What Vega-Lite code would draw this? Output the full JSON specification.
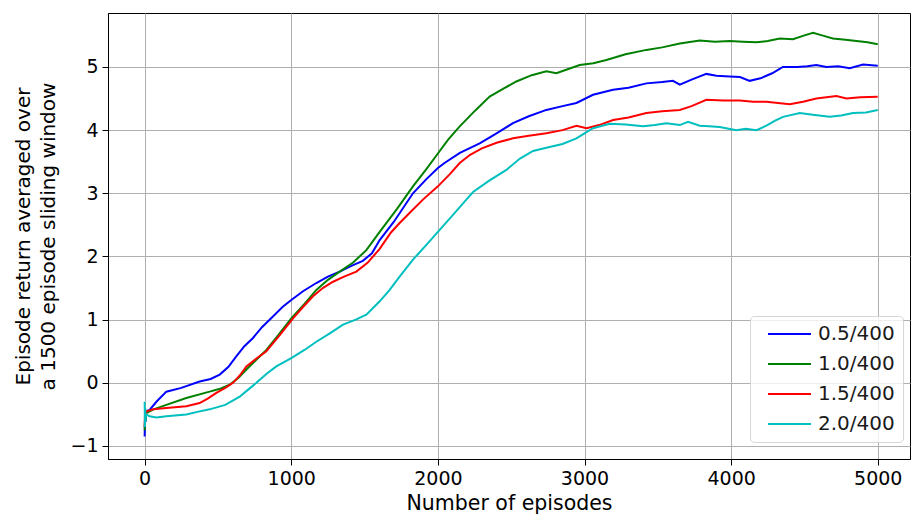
{
  "$schema": "https://vega.github.io/schema/vega-lite/v6.json",
  "width": 802,
  "height": 446,
  "autosize": {"type": "none"},
  "padding": {"left": 108, "top": 13, "right": 1, "bottom": 58},
  "background": "white",
  "config": {
    "view": {"stroke": "black", "strokeWidth": 1},
    "font": "DejaVu Sans",
    "axis": {
      "labelFont": "DejaVu Sans", "titleFont": "DejaVu Sans",
      "labelFontSize": 19, "titleFontSize": 20.5,
      "labelColor": "black", "titleColor": "black",
      "titleFontWeight": "normal",
      "domainColor": "black", "tickColor": "black", "tickSize": 6,
      "gridColor": "#b0b0b0", "gridWidth": 1, "labelPadding": 4
    },
    "legend": {
      "labelFont": "DejaVu Sans", "labelFontSize": 20, "labelColor": "#1a1a1a"
    }
  },
  "data": {"values": [
    {"e":0,"s":"0.5/400","v":-0.85},{"e":3,"s":"0.5/400","v":-0.5},{"e":6,"s":"0.5/400","v":-0.62},{"e":10,"s":"0.5/400","v":-0.45},{"e":34,"s":"0.5/400","v":-0.43},{"e":80,"s":"0.5/400","v":-0.3},{"e":148,"s":"0.5/400","v":-0.14},{"e":250,"s":"0.5/400","v":-0.08},{"e":375,"s":"0.5/400","v":0.02},{"e":450,"s":"0.5/400","v":0.06},{"e":512,"s":"0.5/400","v":0.13},{"e":570,"s":"0.5/400","v":0.25},{"e":625,"s":"0.5/400","v":0.42},{"e":680,"s":"0.5/400","v":0.58},{"e":739,"s":"0.5/400","v":0.71},{"e":800,"s":"0.5/400","v":0.88},{"e":875,"s":"0.5/400","v":1.05},{"e":940,"s":"0.5/400","v":1.2},{"e":1000,"s":"0.5/400","v":1.31},{"e":1080,"s":"0.5/400","v":1.45},{"e":1171,"s":"0.5/400","v":1.58},{"e":1250,"s":"0.5/400","v":1.68},{"e":1330,"s":"0.5/400","v":1.76},{"e":1410,"s":"0.5/400","v":1.85},{"e":1488,"s":"0.5/400","v":1.93},{"e":1550,"s":"0.5/400","v":2.05},{"e":1603,"s":"0.5/400","v":2.26},{"e":1700,"s":"0.5/400","v":2.55},{"e":1830,"s":"0.5/400","v":3.0},{"e":1920,"s":"0.5/400","v":3.22},{"e":2000,"s":"0.5/400","v":3.4},{"e":2045,"s":"0.5/400","v":3.48},{"e":2150,"s":"0.5/400","v":3.64},{"e":2285,"s":"0.5/400","v":3.79},{"e":2400,"s":"0.5/400","v":3.95},{"e":2512,"s":"0.5/400","v":4.11},{"e":2620,"s":"0.5/400","v":4.22},{"e":2740,"s":"0.5/400","v":4.32},{"e":2850,"s":"0.5/400","v":4.38},{"e":2945,"s":"0.5/400","v":4.43},{"e":3058,"s":"0.5/400","v":4.56},{"e":3195,"s":"0.5/400","v":4.64},{"e":3300,"s":"0.5/400","v":4.67},{"e":3422,"s":"0.5/400","v":4.74},{"e":3530,"s":"0.5/400","v":4.76},{"e":3603,"s":"0.5/400","v":4.78},{"e":3650,"s":"0.5/400","v":4.72},{"e":3730,"s":"0.5/400","v":4.8},{"e":3831,"s":"0.5/400","v":4.89},{"e":3900,"s":"0.5/400","v":4.86},{"e":3990,"s":"0.5/400","v":4.85},{"e":4060,"s":"0.5/400","v":4.84},{"e":4127,"s":"0.5/400","v":4.78},{"e":4200,"s":"0.5/400","v":4.82},{"e":4280,"s":"0.5/400","v":4.9},{"e":4353,"s":"0.5/400","v":5.0},{"e":4450,"s":"0.5/400","v":5.0},{"e":4520,"s":"0.5/400","v":5.01},{"e":4581,"s":"0.5/400","v":5.03},{"e":4650,"s":"0.5/400","v":5.0},{"e":4730,"s":"0.5/400","v":5.01},{"e":4809,"s":"0.5/400","v":4.98},{"e":4900,"s":"0.5/400","v":5.04},{"e":5000,"s":"0.5/400","v":5.02},
    {"e":0,"s":"1.0/400","v":-0.75},{"e":3,"s":"1.0/400","v":-0.55},{"e":6,"s":"1.0/400","v":-0.6},{"e":11,"s":"1.0/400","v":-0.48},{"e":60,"s":"1.0/400","v":-0.42},{"e":148,"s":"1.0/400","v":-0.35},{"e":284,"s":"1.0/400","v":-0.24},{"e":443,"s":"1.0/400","v":-0.14},{"e":520,"s":"1.0/400","v":-0.09},{"e":580,"s":"1.0/400","v":-0.03},{"e":640,"s":"1.0/400","v":0.08},{"e":694,"s":"1.0/400","v":0.21},{"e":760,"s":"1.0/400","v":0.36},{"e":830,"s":"1.0/400","v":0.52},{"e":910,"s":"1.0/400","v":0.75},{"e":1000,"s":"1.0/400","v":1.02},{"e":1090,"s":"1.0/400","v":1.25},{"e":1171,"s":"1.0/400","v":1.47},{"e":1250,"s":"1.0/400","v":1.63},{"e":1330,"s":"1.0/400","v":1.76},{"e":1420,"s":"1.0/400","v":1.9},{"e":1512,"s":"1.0/400","v":2.1},{"e":1603,"s":"1.0/400","v":2.39},{"e":1720,"s":"1.0/400","v":2.75},{"e":1830,"s":"1.0/400","v":3.11},{"e":1920,"s":"1.0/400","v":3.38},{"e":2000,"s":"1.0/400","v":3.63},{"e":2070,"s":"1.0/400","v":3.85},{"e":2149,"s":"1.0/400","v":4.06},{"e":2250,"s":"1.0/400","v":4.3},{"e":2353,"s":"1.0/400","v":4.53},{"e":2450,"s":"1.0/400","v":4.66},{"e":2535,"s":"1.0/400","v":4.77},{"e":2640,"s":"1.0/400","v":4.87},{"e":2740,"s":"1.0/400","v":4.93},{"e":2808,"s":"1.0/400","v":4.9},{"e":2880,"s":"1.0/400","v":4.96},{"e":2967,"s":"1.0/400","v":5.03},{"e":3060,"s":"1.0/400","v":5.06},{"e":3149,"s":"1.0/400","v":5.11},{"e":3280,"s":"1.0/400","v":5.2},{"e":3422,"s":"1.0/400","v":5.27},{"e":3530,"s":"1.0/400","v":5.31},{"e":3650,"s":"1.0/400","v":5.37},{"e":3786,"s":"1.0/400","v":5.42},{"e":3890,"s":"1.0/400","v":5.4},{"e":3990,"s":"1.0/400","v":5.41},{"e":4080,"s":"1.0/400","v":5.4},{"e":4173,"s":"1.0/400","v":5.39},{"e":4250,"s":"1.0/400","v":5.41},{"e":4332,"s":"1.0/400","v":5.45},{"e":4422,"s":"1.0/400","v":5.44},{"e":4500,"s":"1.0/400","v":5.5},{"e":4559,"s":"1.0/400","v":5.54},{"e":4620,"s":"1.0/400","v":5.5},{"e":4694,"s":"1.0/400","v":5.45},{"e":4780,"s":"1.0/400","v":5.43},{"e":4855,"s":"1.0/400","v":5.41},{"e":4930,"s":"1.0/400","v":5.39},{"e":5000,"s":"1.0/400","v":5.36},
    {"e":0,"s":"1.5/400","v":-0.7},{"e":3,"s":"1.5/400","v":-0.45},{"e":6,"s":"1.5/400","v":-0.55},{"e":11,"s":"1.5/400","v":-0.45},{"e":60,"s":"1.5/400","v":-0.42},{"e":148,"s":"1.5/400","v":-0.4},{"e":284,"s":"1.5/400","v":-0.37},{"e":375,"s":"1.5/400","v":-0.32},{"e":430,"s":"1.5/400","v":-0.25},{"e":489,"s":"1.5/400","v":-0.16},{"e":550,"s":"1.5/400","v":-0.08},{"e":603,"s":"1.5/400","v":0.0},{"e":650,"s":"1.5/400","v":0.12},{"e":694,"s":"1.5/400","v":0.26},{"e":760,"s":"1.5/400","v":0.38},{"e":830,"s":"1.5/400","v":0.5},{"e":920,"s":"1.5/400","v":0.75},{"e":1012,"s":"1.5/400","v":1.02},{"e":1080,"s":"1.5/400","v":1.2},{"e":1148,"s":"1.5/400","v":1.37},{"e":1215,"s":"1.5/400","v":1.5},{"e":1285,"s":"1.5/400","v":1.6},{"e":1360,"s":"1.5/400","v":1.68},{"e":1444,"s":"1.5/400","v":1.76},{"e":1520,"s":"1.5/400","v":1.9},{"e":1603,"s":"1.5/400","v":2.12},{"e":1680,"s":"1.5/400","v":2.38},{"e":1739,"s":"1.5/400","v":2.53},{"e":1820,"s":"1.5/400","v":2.72},{"e":1898,"s":"1.5/400","v":2.9},{"e":2000,"s":"1.5/400","v":3.11},{"e":2080,"s":"1.5/400","v":3.3},{"e":2149,"s":"1.5/400","v":3.48},{"e":2220,"s":"1.5/400","v":3.61},{"e":2300,"s":"1.5/400","v":3.71},{"e":2400,"s":"1.5/400","v":3.8},{"e":2512,"s":"1.5/400","v":3.87},{"e":2620,"s":"1.5/400","v":3.91},{"e":2740,"s":"1.5/400","v":3.95},{"e":2850,"s":"1.5/400","v":4.0},{"e":2945,"s":"1.5/400","v":4.07},{"e":3013,"s":"1.5/400","v":4.03},{"e":3100,"s":"1.5/400","v":4.08},{"e":3195,"s":"1.5/400","v":4.16},{"e":3300,"s":"1.5/400","v":4.2},{"e":3422,"s":"1.5/400","v":4.27},{"e":3530,"s":"1.5/400","v":4.3},{"e":3650,"s":"1.5/400","v":4.32},{"e":3730,"s":"1.5/400","v":4.38},{"e":3831,"s":"1.5/400","v":4.48},{"e":3950,"s":"1.5/400","v":4.47},{"e":4059,"s":"1.5/400","v":4.47},{"e":4150,"s":"1.5/400","v":4.45},{"e":4241,"s":"1.5/400","v":4.45},{"e":4320,"s":"1.5/400","v":4.43},{"e":4400,"s":"1.5/400","v":4.41},{"e":4490,"s":"1.5/400","v":4.45},{"e":4581,"s":"1.5/400","v":4.5},{"e":4650,"s":"1.5/400","v":4.52},{"e":4718,"s":"1.5/400","v":4.54},{"e":4786,"s":"1.5/400","v":4.5},{"e":4880,"s":"1.5/400","v":4.52},{"e":5000,"s":"1.5/400","v":4.53},
    {"e":0,"s":"2.0/400","v":-0.3},{"e":2,"s":"2.0/400","v":-0.7},{"e":4,"s":"2.0/400","v":-0.4},{"e":6,"s":"2.0/400","v":-0.6},{"e":10,"s":"2.0/400","v":-0.5},{"e":34,"s":"2.0/400","v":-0.53},{"e":80,"s":"2.0/400","v":-0.55},{"e":148,"s":"2.0/400","v":-0.53},{"e":284,"s":"2.0/400","v":-0.5},{"e":360,"s":"2.0/400","v":-0.46},{"e":443,"s":"2.0/400","v":-0.42},{"e":550,"s":"2.0/400","v":-0.35},{"e":648,"s":"2.0/400","v":-0.22},{"e":700,"s":"2.0/400","v":-0.12},{"e":762,"s":"2.0/400","v":0.0},{"e":830,"s":"2.0/400","v":0.14},{"e":898,"s":"2.0/400","v":0.26},{"e":1000,"s":"2.0/400","v":0.39},{"e":1090,"s":"2.0/400","v":0.52},{"e":1171,"s":"2.0/400","v":0.65},{"e":1260,"s":"2.0/400","v":0.78},{"e":1353,"s":"2.0/400","v":0.92},{"e":1440,"s":"2.0/400","v":1.0},{"e":1512,"s":"2.0/400","v":1.08},{"e":1603,"s":"2.0/400","v":1.29},{"e":1671,"s":"2.0/400","v":1.47},{"e":1739,"s":"2.0/400","v":1.68},{"e":1830,"s":"2.0/400","v":1.95},{"e":1920,"s":"2.0/400","v":2.18},{"e":2000,"s":"2.0/400","v":2.39},{"e":2100,"s":"2.0/400","v":2.65},{"e":2194,"s":"2.0/400","v":2.9},{"e":2240,"s":"2.0/400","v":3.02},{"e":2350,"s":"2.0/400","v":3.2},{"e":2467,"s":"2.0/400","v":3.37},{"e":2560,"s":"2.0/400","v":3.55},{"e":2649,"s":"2.0/400","v":3.67},{"e":2740,"s":"2.0/400","v":3.72},{"e":2850,"s":"2.0/400","v":3.78},{"e":2945,"s":"2.0/400","v":3.87},{"e":3000,"s":"2.0/400","v":3.95},{"e":3058,"s":"2.0/400","v":4.03},{"e":3172,"s":"2.0/400","v":4.1},{"e":3280,"s":"2.0/400","v":4.09},{"e":3399,"s":"2.0/400","v":4.06},{"e":3480,"s":"2.0/400","v":4.08},{"e":3558,"s":"2.0/400","v":4.11},{"e":3650,"s":"2.0/400","v":4.08},{"e":3706,"s":"2.0/400","v":4.13},{"e":3786,"s":"2.0/400","v":4.07},{"e":3850,"s":"2.0/400","v":4.06},{"e":3922,"s":"2.0/400","v":4.05},{"e":4036,"s":"2.0/400","v":4.0},{"e":4100,"s":"2.0/400","v":4.02},{"e":4173,"s":"2.0/400","v":4.0},{"e":4241,"s":"2.0/400","v":4.07},{"e":4300,"s":"2.0/400","v":4.15},{"e":4354,"s":"2.0/400","v":4.21},{"e":4468,"s":"2.0/400","v":4.27},{"e":4570,"s":"2.0/400","v":4.24},{"e":4673,"s":"2.0/400","v":4.21},{"e":4750,"s":"2.0/400","v":4.23},{"e":4832,"s":"2.0/400","v":4.27},{"e":4920,"s":"2.0/400","v":4.28},{"e":5000,"s":"2.0/400","v":4.32}
  ]},
  "mark": {"type": "line", "strokeWidth": 2, "clip": true},
  "encoding": {
    "x": {
      "field": "e", "type": "quantitative",
      "scale": {"domain": [-250, 5220], "nice": false, "zero": false},
      "axis": {"values": [0, 1000, 2000, 3000, 4000, 5000], "title": "Number of episodes", "titlePadding": 5, "format": "d"}
    },
    "y": {
      "field": "v", "type": "quantitative",
      "scale": {"domain": [-1.206, 5.854], "nice": false, "zero": false},
      "axis": {"values": [-1, 0, 1, 2, 3, 4, 5], "title": ["Episode return averaged over", "a 1500 episode sliding window"], "titleFontSize": 20, "titleLineHeight": 25, "titlePadding": 11, "format": "d"}
    },
    "color": {
      "field": "s", "type": "nominal",
      "scale": {"domain": ["0.5/400", "1.0/400", "1.5/400", "2.0/400"], "range": ["#0000ff", "#008000", "#ff0000", "#00bfbf"]},
      "legend": {
        "title": null, "orient": "none", "legendX": 642, "legendY": 303,
        "symbolType": "M0,0H8.6", "symbolSize": 100, "symbolStrokeWidth": 2,
        "fillColor": "rgba(255,255,255,0.8)", "strokeColor": "rgba(204,204,204,0.8)", "cornerRadius": 4, "padding": 8,
        "rowPadding": 10, "labelOffset": 40
      }
    }
  }
}
